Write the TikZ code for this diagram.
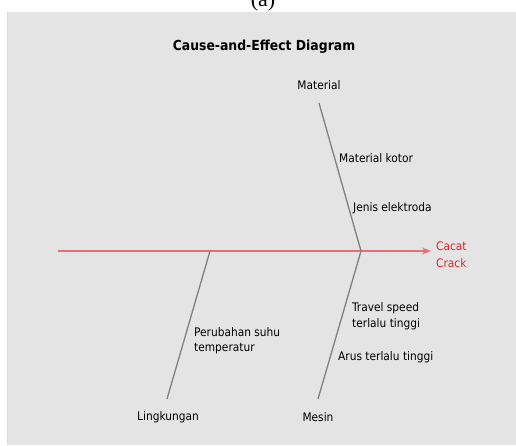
\documentclass[tikz,border=0pt]{standalone}
\usepackage{fontspec}
\setmainfont{DejaVu Sans Condensed}
\newfontfamily\capfont{Liberation Serif}
\usetikzlibrary{arrows.meta}
\definecolor{panel}{RGB}{228,228,228}
\definecolor{spine}{RGB}{232,112,112}
\definecolor{bone}{RGB}{128,128,128}
\definecolor{effect}{RGB}{220,40,40}
\tikzset{
  bonetext/.style={font=\fontsize{11.8}{14}\selectfont, text=black, inner sep=0pt},
  causetext/.style={bonetext, anchor=west, align=left},
  bonestyle/.style={draw=bone, line width=1.3pt},
}
\begin{document}
\begin{tikzpicture}[x=1pt,y=-1pt]
  \useasboundingbox (0,0) rectangle (516,445);
  \clip (0,0) rectangle (516,445);
  % panel
  \fill[panel] (7,12) rectangle (516,445);
  \draw[white!85!black, line width=0.6pt] (7.3,12) -- (7.3,445);
  % caption above the panel
  \node[font=\capfont\fontsize{22}{24}\selectfont, anchor=base, inner sep=0pt] (cap) at (263,6.5) {(a)};
  % title
  \node[font=\bfseries\fontsize{13.8}{15}\selectfont, inner sep=0pt] (title) at (264,47) {Cause-and-Effect Diagram};
  % spine and effect
  \coordinate (tail) at (58,251);
  \coordinate (head) at (431,251);
  \coordinate (jr) at (361,251);
  \coordinate (jl) at (210,251);
  \draw[draw=spine, line width=2pt, -{Stealth[length=9pt,width=7pt]}] (tail) -- (head);
  \node[bonetext, text=effect, anchor=west, align=left, font=\fontsize{11.8}{17}\selectfont] (effect) at (436,254.5) {Cacat\\Crack};
  % category ends
  \coordinate (mattop) at (319,103);
  \coordinate (mesbot) at (318,399);
  \coordinate (linbot) at (167,399);
  \node[bonetext] (material) at (319,85) {Material};
  \node[bonetext] (mesin) at (318,417) {Mesin};
  \node[bonetext] (lingkungan) at (168,417) {Lingkungan};
  % bones
  \draw[bonestyle] (mattop) -- (jr);
  \draw[bonestyle] (jr) -- (mesbot);
  \draw[bonestyle] (jl) -- (linbot);
  % causes
  \node[causetext] (kotor) at (339,158) {Material kotor};
  \node[causetext] (elektroda) at (353,208) {Jenis elektroda};
  \node[causetext, font=\fontsize{11.8}{16}\selectfont] (travel) at (352,316) {Travel speed\\terlalu tinggi};
  \node[causetext] (arus) at (338,357) {Arus terlalu tinggi};
  \node[causetext, font=\fontsize{11.8}{15}\selectfont] (suhu) at (194,340.5) {Perubahan suhu\\temperatur};
\end{tikzpicture}
\end{document}
